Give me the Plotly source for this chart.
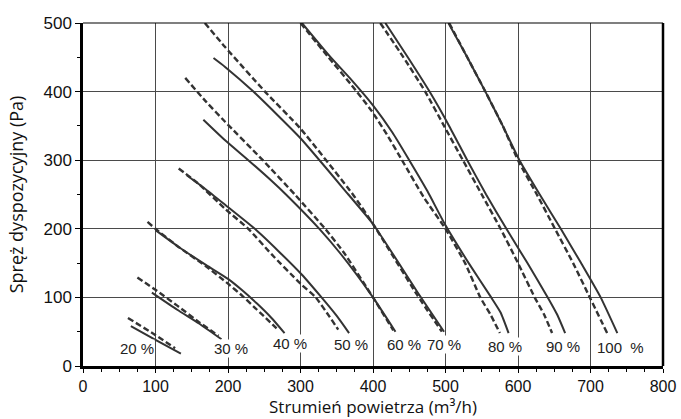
import plotly.graph_objects as go

# fan curves: available pressure (Pa) vs air flow (m3/h) for fan speed settings
levels = ["20 %", "30 %", "40 %", "50 %", "60 %", "70 %", "80 %", "90 %", "100\u00a0\u00a0%"]

# solid curves
solid_flow = [
    [66, 100, 135],
    [95, 130, 160, 191],
    [100, 130, 170, 200, 220, 240, 260, 278],
    [143, 170, 196, 237, 270, 302, 329, 350, 367],
    [166, 196, 228, 260, 281, 326, 355, 400, 431],
    [180, 196, 235, 300, 366, 400, 463, 498],
    [302, 340, 372, 400, 427, 450, 475, 500, 532, 563, 576, 587],
    [417, 448, 478, 505, 530, 556, 584, 613, 641, 654, 665],
    [504, 530, 555, 579, 602, 630, 659, 687, 714, 737],
]
solid_press = [
    [58, 38, 18],
    [107, 82, 62, 39],
    [198, 175, 147, 127, 110, 91, 70, 48],
    [278, 257, 235, 200, 167, 133, 100, 73, 48],
    [359, 329, 300, 270, 249, 200, 164, 100, 50],
    [449, 436, 400, 332, 250, 207, 105, 50],
    [500, 452, 415, 380, 340, 300, 255, 205, 150, 100, 78, 48],
    [500, 450, 400, 350, 300, 250, 200, 150, 100, 75, 48],
    [500, 450, 400, 350, 300, 250, 200, 150, 100, 48],
]

# dashed curves
dashed_flow = [
    [62, 100, 127],
    [75, 100, 130, 160, 187],
    [89, 100, 130, 170, 200, 220, 240, 267],
    [132, 160, 196, 228, 260, 300, 321, 340, 352],
    [141, 170, 196, 248, 293, 334, 360, 400, 428],
    [168, 196, 251, 300, 373, 400, 460, 495],
    [300, 337, 370, 398, 420, 440, 470, 500, 527, 548, 562, 575],
    [410, 442, 472, 498, 524, 550, 576, 600, 623, 636, 647],
    [505, 530, 555, 579, 600, 626, 651, 676, 699, 723],
]
dashed_press = [
    [70, 45, 26],
    [129, 111, 88, 64, 44],
    [210, 200, 175, 145, 120, 102, 82, 55],
    [288, 265, 229, 200, 163, 120, 100, 72, 53],
    [420, 385, 356, 300, 249, 200, 165, 100, 52],
    [500, 465, 400, 346, 249, 207, 105, 50],
    [500, 452, 410, 372, 336, 300, 246, 200, 150, 100, 75, 48],
    [500, 450, 400, 350, 300, 250, 200, 150, 100, 75, 48],
    [500, 450, 400, 350, 300, 250, 200, 150, 100, 48],
]

# where each percentage label sits
label_flow = [75, 204, 286, 370, 443, 498, 582, 662, 742]
label_press = [25, 25, 33, 32, 32, 32, 29, 29, 27]

ink = "#333333"

fig = go.Figure()

for i in range(len(levels)):
    fig.add_trace(go.Scatter(x=dashed_flow[i], y=dashed_press[i], mode="lines",
                             line=dict(color=ink, width=2.4, dash="6px,3px", shape="spline", smoothing=0.5),
                             hoverinfo="skip", showlegend=False))
    fig.add_trace(go.Scatter(x=solid_flow[i], y=solid_press[i], mode="lines",
                             line=dict(color=ink, width=2, shape="spline", smoothing=0.5),
                             hoverinfo="skip", showlegend=False))
    fig.add_annotation(x=label_flow[i], y=label_press[i], text=levels[i], showarrow=False,
                       font=dict(family="Liberation Sans, Arial", size=15, color="#222"),
                       bgcolor="white", borderpad=0)

# top and right frame
fig.add_shape(type="line", xref="paper", yref="paper", x0=0, x1=1, y0=1, y1=1,
              line=dict(color="black", width=1.2))
fig.add_shape(type="line", xref="paper", yref="paper", x0=1, x1=1, y0=0, y1=1,
              line=dict(color="black", width=2.5))

fig.update_xaxes(range=[0, 800], dtick=100, showgrid=True, gridcolor="#4a4a4a", gridwidth=1,
                 zeroline=False, showline=True, linecolor="black", linewidth=2.5,
                 ticks="outside", ticklen=4, tickcolor="black", automargin=False,
                 minor=dict(dtick=25, ticks="outside", ticklen=3, tickcolor="black", showgrid=False),
                 tickfont=dict(family="Liberation Sans, Arial", size=16, color="#111"),
                 title=dict(text="Strumień powietrza (m³/h)", standoff=8,
                            font=dict(family="Open Sans", size=17, color="#111")))
fig.update_yaxes(range=[0, 500], dtick=100, showgrid=True, gridcolor="#4a4a4a", gridwidth=1,
                 zeroline=False, showline=True, linecolor="black", linewidth=2.5,
                 ticks="outside", ticklen=5, tickcolor="black", automargin=False,
                 minor=dict(dtick=50, ticks="outside", ticklen=3, tickcolor="black", showgrid=False),
                 tickfont=dict(family="Liberation Sans, Arial", size=17, color="#111"),
                 title=dict(text="Spręż dyspozycyjny (Pa)", standoff=16,
                            font=dict(family="Open Sans", size=18, color="#111")))

fig.update_layout(width=681, height=419, margin=dict(l=83, r=18, t=23, b=53),
                  plot_bgcolor="white", paper_bgcolor="white")

# page body has a default 8px margin; drop it so the figure fills the window
fig.write_html("out.html", config={"displayModeBar": False},
               post_script="document.body.style.margin='0';")
